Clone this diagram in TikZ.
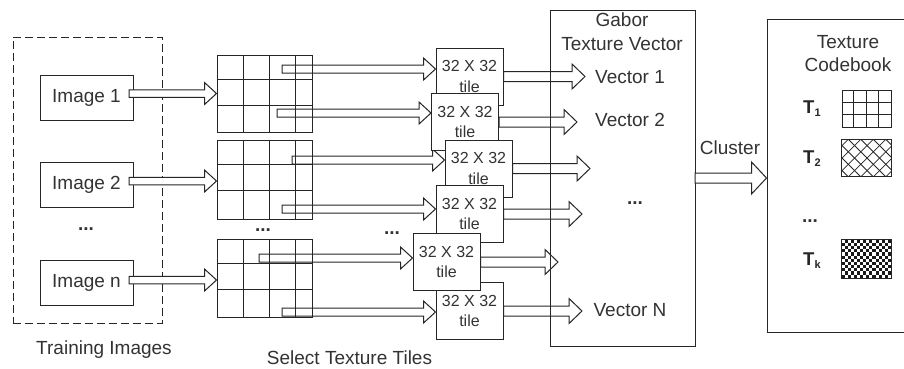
\documentclass[tikz,border=0pt]{standalone}
\usepackage{fontspec}
\setmainfont{Liberation Sans}
\usetikzlibrary{calc}
\pgfdeclarelayer{bg}
\pgfdeclarelayer{bgfill}
\pgfsetlayers{bgfill,bg,main}
\newcommand\harrow[5]{% start, end, shaft half, head half, head length
  \draw[arr] let \p1=(#1), \p2=(#2) in
    (\x1,\y1+#3) -- (\x2-#5,\y1+#3) -- (\x2-#5,\y1+#4) -- (\x2,\y1)
    -- (\x2-#5,\y1-#4) -- (\x2-#5,\y1-#3) -- (\x1,\y1-#3) -- cycle;}
\tikzset{
  ln/.style={draw=black!85, line width=1pt},
  arr/.style={draw=black!85, fill=white, line width=1pt, line join=miter},
  imgbox/.style={ln, fill=white, minimum width=93pt, minimum height=45pt, inner sep=0pt,
    font=\fontsize{19}{23}\selectfont, text=black!80},
  tilebox/.style={ln, fill=white, minimum width=67pt, minimum height=57pt, inner sep=0pt,
    align=center, font=\fontsize{16}{20.5}\selectfont, text=black!80},
  gridbox/.style={ln, minimum width=95pt, inner sep=0pt},
  lbl/.style={inner sep=0pt, font=\fontsize{19}{23}\selectfont, text=black!80},
  dots/.style={inner sep=0pt, font=\fontsize{19}{23}\selectfont\bfseries, text=black!80},
  tlbl/.style={inner sep=0pt, anchor=base west, text=black!85,
    font=\fontsize{18.5}{22}\selectfont\bfseries},
  pat/.style={draw=black!85, line width=0.9pt},
}
\newcommand\tsub[2]{T\raisebox{-3.5pt}{\fontsize{11}{12}\selectfont #2}}
\begin{document}
\begin{tikzpicture}[x=1pt, y=-1pt]
\begin{pgfonlayer}{bgfill}
\fill[white] (0,0) rectangle (904,368);
\end{pgfonlayer}
\useasboundingbox (0,0) rectangle (904,368);

% training images
\node[ln, dash pattern=on 8pt off 4pt, minimum width=149pt, minimum height=286pt, inner sep=0pt] (train) at (87.5,180) {};
\node[imgbox] (img1) at (86.5,98) {Image 1};
\node[imgbox] (img2) at (86.5,185) {Image 2};
\node[imgbox] (imgn) at (86.5,282.5) {Image n};
\node[dots] (idots) at (86,229) {...};
\node[lbl] (trlab) at (104,350) {Training Images};

% grids
\node[gridbox, minimum height=77pt] (g1) at (264.5,93.5) {};
\node[gridbox, minimum height=79pt] (g2) at (264.5,179.5) {};
\node[gridbox, minimum height=78pt] (g3) at (264.5,278) {};
\foreach \g in {g1,g2,g3}{
  \foreach \gx in {243,269,295}
    \draw[ln] (\gx,0 |- \g.north) -- (\gx,0 |- \g.south);
  \draw[ln] ($(\g.north west)+(0,25)$) -- ($(\g.north east)+(0,25)$);
  \draw[ln] ($(\g.north west)+(0,51)$) -- ($(\g.north east)+(0,51)$);
}
\node[dots] (gdots) at (263,230) {...};
\node[dots] (adots) at (392,233) {...};
\node[lbl] (sellab) at (349.5,357.5) {Select Texture Tiles};

% image arrows
\coordinate (ia1) at (129,93.5);
\coordinate (ia2) at (129,181);
\coordinate (ia3) at (129,280);
\harrow{ia1}{g1.west|-ia1}{3.75pt}{11pt}{12pt}
\harrow{ia2}{g2.west|-ia2}{3.75pt}{11pt}{12pt}
\harrow{ia3}{g3.west|-ia3}{3.75pt}{11pt}{12pt}

% tiles
\node[tilebox] (t1) at (469.5,76.5) {32 X 32\\tile};
\node[tilebox] (t2) at (465,122) {32 X 32\\tile};
\node[tilebox] (t3) at (478.5,168.5) {32 X 32\\tile};
\node[tilebox] (t4) at (469.5,214) {32 X 32\\tile};
\node[tilebox] (t6) at (469.5,311) {32 X 32\\tile};
\node[tilebox] (t5) at (446.5,262) {32 X 32\\tile};

% gabor box
\node[ln, minimum width=145pt, minimum height=336pt, inner sep=0pt] (gabor) at (622.5,178) {};
\node[lbl] (gab1) at (622,20) {Gabor};
\node[lbl] (gab2) at (622,44) {Texture Vector};
\node[lbl] (v1) at (630,77) {Vector 1};
\node[lbl] (v2) at (630,120) {Vector 2};
\node[dots] (vdots) at (635,203) {...};
\node[lbl] (vn) at (630,310) {Vector N};

% arrows behind
\begin{pgfonlayer}{bg}
\coordinate (s1) at (282,69);
\coordinate (s2) at (277,113);
\coordinate (s3) at (292,160);
\coordinate (s4) at (282,209);
\coordinate (s5) at (259,258);
\coordinate (s6) at (282,312);
\harrow{s1}{t1.west|-s1}{4pt}{11pt}{12pt}
\harrow{s2}{t2.west|-s2}{4pt}{11pt}{12pt}
\harrow{s3}{t3.west|-s3}{4pt}{11pt}{12pt}
\harrow{s4}{t4.west|-s4}{4pt}{11pt}{12pt}
\harrow{s5}{t5.west|-s5}{4pt}{11pt}{12pt}
\harrow{s6}{t6.west|-s6}{4pt}{11pt}{12pt}
\coordinate (e1) at (585,77);
\coordinate (e2) at (577,120);
\coordinate (e3) at (590,168);
\coordinate (e4) at (582,213);
\coordinate (e5) at (558,263);
\coordinate (e6) at (582,311);
\harrow{t1.east}{e1}{5pt}{12.5pt}{13pt}
\harrow{t2.east}{e2}{5pt}{12.5pt}{13pt}
\harrow{t3.east}{e3}{5pt}{12.5pt}{13pt}
\harrow{t4.east}{e4}{5pt}{12.5pt}{13pt}
\harrow{t5.east}{e5}{5pt}{12.5pt}{13pt}
\harrow{t6.east}{e6}{5pt}{12.5pt}{13pt}
\end{pgfonlayer}

% cluster
\node[ln, minimum width=145pt, minimum height=313pt, inner sep=0pt] (cb) at (839.5,175.5) {};
\coordinate (cs) at (695,178);
\harrow{cs}{cb.west|-cs}{5pt}{16pt}{15pt}
\node[lbl] (clab) at (730,148) {Cluster};
\node[lbl] (cb1) at (848,42) {Texture};
\node[lbl] (cb2) at (848,65) {Codebook};

% codebook entries
\node[tlbl] (T1) at (803,113) {\tsub{T}{1}};
\node[tlbl] (T2) at (803,163) {\tsub{T}{2}};
\node[dots] (cdots) at (810,221) {...};
\node[tlbl] (Tk) at (803,265) {\tsub{T}{k}};

% T1 pattern: grid
\node[pat, minimum width=49pt, minimum height=37pt, inner sep=0pt] (p1) at (866.5,109) {};
\foreach \k in {1,2,3}
  \draw[pat] ($(p1.north west)+(12.25*\k,0)$) -- ($(p1.south west)+(12.25*\k,0)$);
\foreach \k in {1,2}
  \draw[pat] ($(p1.north west)+(0,12.33*\k)$) -- ($(p1.north east)+(0,12.33*\k)$);

% T2 pattern: cross hatch
\node[minimum width=49pt, minimum height=37pt, inner sep=0pt] (p2) at (866.5,158) {};
\begin{scope}
  \clip (p2.north west) rectangle (p2.south east);
  \foreach \k in {-4,...,8}{
    \draw[black!85, line width=0.8pt] ($(p2.north west)+(12.5*\k-6,0)$) -- ++(40,40);
    \draw[black!85, line width=0.8pt] ($(p2.north west)+(12.5*\k-6,0)$) -- ++(-40,40);
  }
\end{scope}
\draw[pat] (p2.north west) rectangle (p2.south east);

% Tk pattern: checkerboard
\node[minimum width=49pt, minimum height=38pt, inner sep=0pt] (pk) at (866.5,259) {};
\fill[black!90] (pk.north west) rectangle (pk.south east);
\foreach \i in {0,...,15}{
  \foreach \j in {0,...,11}{
    \pgfmathtruncatemacro\mm{mod(\i+\j,2)}
    \ifnum\mm=0
      \fill[white] ($(pk.north west)+(3.0625*\i,3.1667*\j)$) rectangle ++(3.0625,3.1667);
    \fi
  }
}
\draw[pat] (pk.north west) rectangle (pk.south east);
\end{tikzpicture}
\end{document}
